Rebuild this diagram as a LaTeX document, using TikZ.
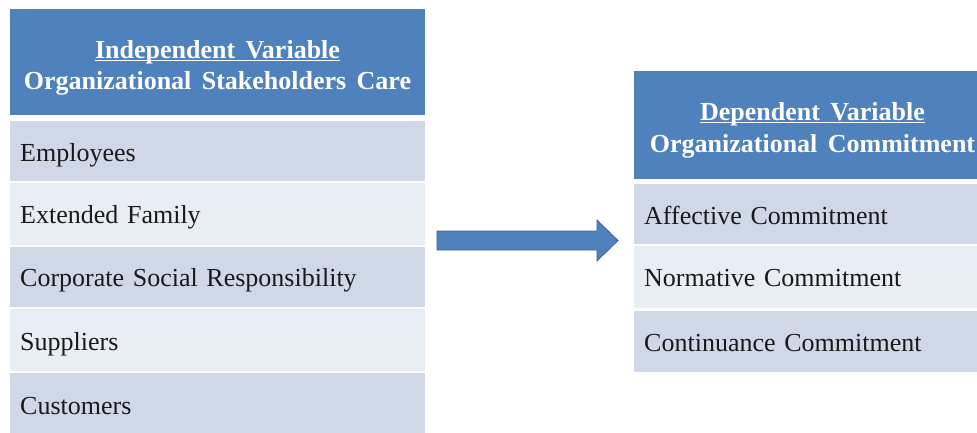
\documentclass[tikz,border=0pt]{standalone}
\usepackage{fontspec}
\usetikzlibrary{calc}
\setmainfont[WordSpace=1.6]{Liberation Serif}
\definecolor{hdrblue}{HTML}{4F81BD}
\definecolor{arrowedge}{HTML}{3A639A}
\definecolor{rowdark}{HTML}{D0D8E8}
\definecolor{rowlight}{HTML}{E9EDF4}
\definecolor{txt}{HTML}{1A1A1A}
\newcommand{\ulword}[1]{\setbox0\hbox{#1}\rlap{\rule[-3.2pt]{\wd0}{1.6pt}}\box0}
\tikzset{
  hdrbox/.style={fill=hdrblue, draw=none, anchor=north west, inner sep=0pt},
  hdrtext/.style={anchor=base, inner sep=0pt, text=white,
    font=\fontsize{26}{31}\selectfont\bfseries},
  rowbox/.style={draw=none, anchor=north west, inner ysep=0pt, inner xsep=10pt,
    text=txt, font=\fontsize{26}{31}\selectfont, align=left,
    text height=20pt, text depth=0pt},
  bigarrow/.style={fill=hdrblue, draw=arrowedge, line width=0.8pt}
}
\begin{document}
\begin{tikzpicture}[x=1pt,y=-1pt]
\useasboundingbox (0,0) rectangle (977,432);
\clip (0,0) rectangle (977,432);
% left table
\node[hdrbox, minimum width=415, minimum height=106] (lh) at (10,9) {};
\node[hdrtext] (lhA) at (217.5,58) {\ulword{Independent Variable}};
\node[hdrtext] (lhB) at (217.5,89) {Organizational Stakeholders Care};
\node[rowbox, fill=rowdark,  text width=395, minimum height=60] (l1) at (10,121) {Employees};
\node[rowbox, fill=rowlight, text width=395, minimum height=62.5] (l2) at (10,182.5) {Extended Family};
\node[rowbox, fill=rowdark,  text width=395, minimum height=60.5] (l3) at (10,246.5) {Corporate Social Responsibility};
\node[rowbox, fill=rowlight, text width=395, minimum height=62] (l4) at (10,309) {Suppliers};
\node[rowbox, fill=rowdark,  text width=395, minimum height=62] (l5) at (10,373) {Customers};
% right table
\node[hdrbox, minimum width=357, minimum height=108] (rh) at (634,71) {};
\node[hdrtext] (rhA) at (812.5,120) {\ulword{Dependent Variable}};
\node[hdrtext] (rhB) at (812.5,152) {Organizational Commitment};
\node[rowbox, fill=rowdark,  text width=337, minimum height=60] (r1) at (634,184) {Affective Commitment};
\node[rowbox, fill=rowlight, text width=337, minimum height=61.5] (r2) at (634,246) {Normative Commitment};
\node[rowbox, fill=rowdark,  text width=337, minimum height=61.5] (r3) at (634,310.5) {Continuance Commitment};
% arrow
\coordinate (as) at (437,240.5);
\coordinate (ae) at (618,240.5);
\draw[bigarrow] ($(as)+(0,-9.5)$) -- (597,231) -- (597,220) -- (ae) -- (597,261) -- (597,250) -- ($(as)+(0,9.5)$) -- cycle;
\end{tikzpicture}
\end{document}
